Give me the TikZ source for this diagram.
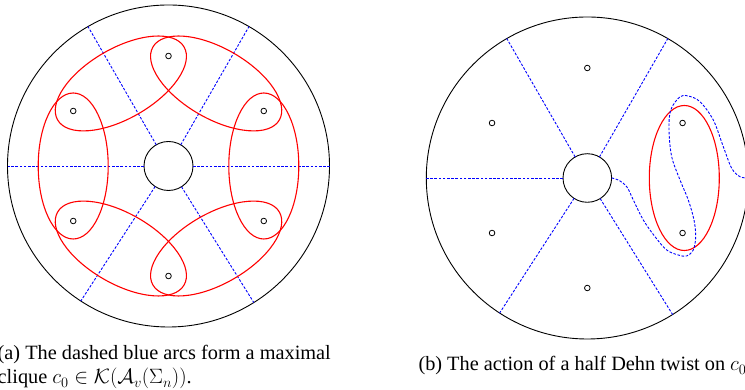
\documentclass[tikz,border=0pt]{standalone}
\usepackage{fontspec}
\setmainfont{Liberation Serif}
\begin{document}
\begin{tikzpicture}[x=1pt,y=1pt,
  rim/.style={circle,draw=black,line width=0.9pt,inner sep=0pt,outer sep=0pt},
  bluearc/.style={draw=blue,dash pattern=on 2.6pt off 1.6pt,line width=0.9pt},
  redloop/.style={draw=red,line width=1.1pt},
  puncture/.style={circle,draw=black,line width=0.8pt,minimum size=5.6pt,inner sep=0pt},
  captext/.style={font=\fontsize{20.3}{24}\selectfont,inner sep=0pt,anchor=base west}]
\clip (0,0) rectangle (745,390);
% ---------- left disk ----------
\node[rim,minimum size=322pt] (diskL) at (168.5,224) {};
\node[rim,minimum size=49pt] (hubL) at (168.5,224) {};
\foreach \a in {0,60,120,180,237.5,302.5}
  \draw[bluearc] (hubL.\a) -- (diskL.\a);
\begin{scope}[shift={(168.5,224)}]
  \foreach \a/\n in {30/1,90/2,150/3,210/4,270/5,330/6}
    \node[puncture] (pL\n) at (\a:110) {};
  \foreach \a in {0,60,120,180,240,300}
    \draw[redloop,rotate=\a] (95.3,0) ellipse[x radius=35,y radius=73];
\end{scope}
% ---------- right disk ----------
\node[rim,minimum size=322pt] (diskR) at (587.3,212) {};
\node[rim,minimum size=48.6pt] (hubR) at (587.3,212) {};
\foreach \a in {60,120,180,237.5,302.5}
  \draw[bluearc] (hubR.\a) -- (diskR.\a);
\begin{scope}[shift={(587.3,212)}]
  \foreach \a/\n in {30/1,90/2,150/3,210/4,270/5,330/6}
    \node[puncture] (pR\n) at (\a:110) {};
  \draw[redloop] (97,0) ellipse[x radius=35,y radius=72.5];
\end{scope}
\draw[bluearc] plot[smooth,tension=0.55] coordinates {
  (hubR.0) (618.3,210) (626.7,203.3) (633.3,190) (643.3,170) (655,153.3)
  (666.7,140) (678.3,135) (686.7,134) (693.3,140) (695.7,153.3) (694,170)
  (688.3,190) (680,210) (671.7,233.3) (669,260) (670.7,280) (680,293.3)
  (688.3,294) (700,288.3) (713.3,270) (723.3,243.3) (731.7,221.7) (740,213.3)
  (diskR.0)};
% ---------- captions ----------
\node[captext] (capA1) at (-2.5,30) {(a) The dashed blue arcs form a maximal};
\node[captext] (capA2) at (-2.5,6) {clique $c_0 \in \mathcal{K}(\mathcal{A}_v(\Sigma_n))$.};
\node[captext] (capB) at (418.3,19) {(b) The action of a half Dehn twist on $c_0$};
\end{tikzpicture}
\end{document}
